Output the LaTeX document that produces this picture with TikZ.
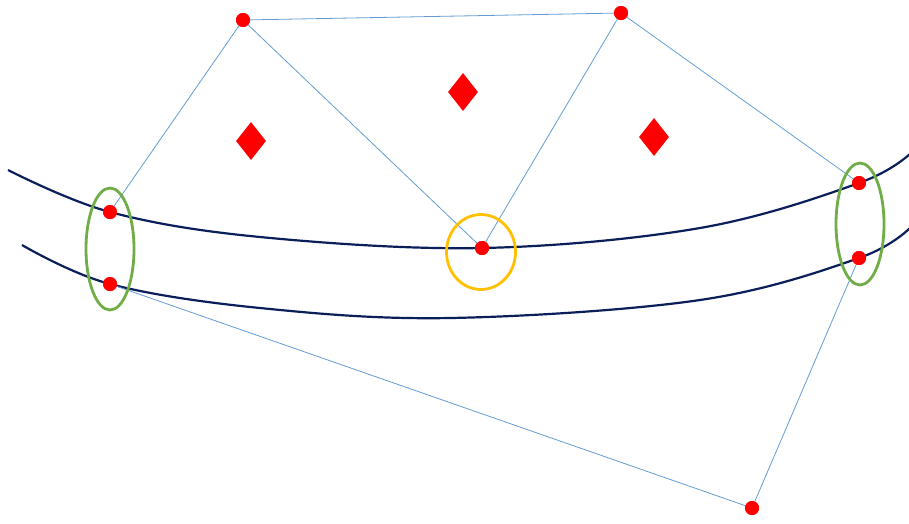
\documentclass[tikz,border=0pt]{standalone}
\usetikzlibrary{shapes.geometric}
\definecolor{edgeblue}{RGB}{100,155,210}
\definecolor{navy}{RGB}{10,30,90}
\definecolor{ringgreen}{RGB}{112,173,71}
\definecolor{ringgold}{RGB}{255,192,0}
\begin{document}
\begin{tikzpicture}[x=1pt,y=-1pt,
  dot/.style={circle,fill=red,inner sep=0pt,minimum size=14pt},
  gem/.style={diamond,fill=red,inner sep=0pt,minimum width=30pt,minimum height=38pt},
  edge/.style={draw=edgeblue,line width=0.8pt},
  band/.style={draw=navy,line width=2.2pt},
  ring/.style={draw=ringgreen,line width=2.8pt},
  halo/.style={draw=ringgold,line width=2.8pt}]
\useasboundingbox (0,0) rectangle (909,523);
% curves
\draw[band] plot[smooth,tension=0.6] coordinates {(8,170) (110,212) (260,237) (482,248) (700,228) (859,183) (912,152)};
\draw[band] plot[smooth,tension=0.6] coordinates {(22,245) (110,284) (260,308) (450,318) (700,300) (859,258) (912,226)};
% nodes
\node[dot] (A) at (243,20) {};
\node[dot] (B) at (621,13) {};
\node[dot] (C) at (482,248) {};
\node[dot] (L1) at (110,212) {};
\node[dot] (L2) at (110,284) {};
\node[dot] (R1) at (859,183) {};
\node[dot] (R2) at (859,258) {};
\node[dot] (D) at (752,508) {};
% edges
\draw[edge] (A) -- (B);
\draw[edge] (A) -- (L1);
\draw[edge] (A) -- (C);
\draw[edge] (B) -- (C);
\draw[edge] (B) -- (R1);
\draw[edge] (L2) -- (D);
\draw[edge] (R2) -- (D);
% redraw dots on top
\foreach \n in {A,B,C,L1,L2,R1,R2,D} \fill[red] (\n) circle (7pt);
% rings
\node[ring,ellipse,minimum width=48pt,minimum height=122pt,inner sep=0pt] (LE) at (110,249) {};
\node[ring,ellipse,minimum width=48pt,minimum height=122pt,inner sep=0pt] (RE) at (860,224) {};
\node[halo,ellipse,minimum width=69pt,minimum height=75pt,inner sep=0pt] (CE) at (481,252) {};
% diamonds
\node[gem] (G1) at (251,141) {};
\node[gem] (G2) at (463,92) {};
\node[gem] (G3) at (654,137) {};
\end{tikzpicture}
\end{document}
